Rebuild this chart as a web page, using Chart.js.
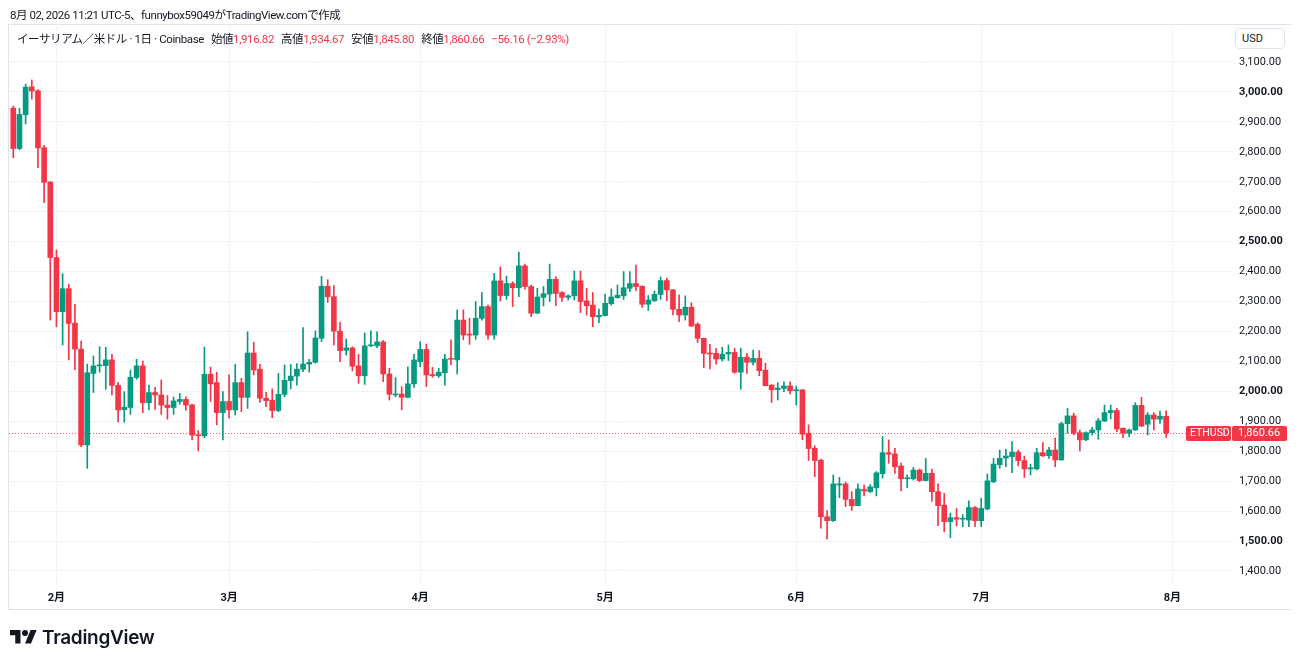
<!DOCTYPE html>
<html lang="ja">
<head>
<meta charset="utf-8">
<title>ETHUSD</title>
<script src="https://cdn.jsdelivr.net/npm/chart.js@4.4.1/dist/chart.umd.min.js"></script>
<style>
  html, body { margin:0; padding:0; background:#ffffff; overflow:hidden; }
  body { width:1299px; height:664px; position:relative; font-family: Roboto, "Noto Sans CJK JP", sans-serif; color:#131722; }
  #frame { position:absolute; left:8px; top:24px; width:1282px; height:584px; border:1px solid #e0e3eb; border-right:none; box-sizing:content-box; }
  #c { position:absolute; left:0; top:0; }
  #stamp { position:absolute; left:10px; top:7px; font-size:11.5px; letter-spacing:-0.45px; line-height:16px; white-space:nowrap; }
  #legend { position:absolute; left:17px; top:31px; font-size:11.5px; letter-spacing:-0.4px; line-height:16px; white-space:nowrap; }
  #legend .g { margin-left:7px; }
  #legend .r { color:#f23645; }
  #usd { position:absolute; left:1235px; top:28px; width:50px; height:21px; border:1px solid #e0e3eb; border-radius:4px; box-sizing:border-box; font-size:11px; line-height:19px; padding-left:6px; background:#fff; }
  #logo { position:absolute; left:10px; top:626px; height:22px; display:flex; align-items:center; }
  #logo span { font-family: Inter, Roboto, sans-serif; font-weight:600; font-size:19px; margin-left:5px; letter-spacing:-0.3px; color:#131722; }
</style>
</head>
<body>
<div id="frame"></div>
<canvas id="c" width="1299" height="664"></canvas>
<div id="stamp">8月 02, 2026 11:21 UTC-5、funnybox59049がTradingView.comで作成</div>
<div id="legend">イーサリアム／米ドル · 1日 · Coinbase<span class="g">始値<span class="r">1,916.82</span></span><span class="g">高値<span class="r">1,934.67</span></span><span class="g">安値<span class="r">1,845.80</span></span><span class="g">終値<span class="r">1,860.66</span></span><span class="g r">−56.16 (−2.93%)</span></div>
<div id="usd">USD</div>
<div id="logo">
  <svg width="27" height="21" viewBox="0 0 36 28"><path d="M14 22H7V11H0V4h14v18z" fill="#131722"/><circle cx="20" cy="8" r="4" fill="#131722"/><path d="M28 22h-8l7.5-18h8L28 22z" fill="#131722"/></svg>
  <span>TradingView</span>
</div>
<script>
// ---- data (daily candles, ETH/USD Coinbase, from 2026-01-25) ----
const startDate = '2026-01-25';
const opens = [
2946,2811,2924,3017,3004,2814,2699,2447,2266,2343,2228,2141,1821,2060,2085,2086,2105,2020,1939,1946,
2046,2085,1962,1996,1988,1954,1946,1966,1973,1955,1855,1851,2057,2029,1929,1966,1938,2029,1980,2128,
2074,1977,1970,1936,1990,2036,2051,2074,2091,2097,2177,2351,2316,2201,2137,2145,2085,2052,2152,2152,
2165,2058,1988,1991,1980,2025,2099,2140,2056,2052,2062,2110,2105,2238,2190,2188,2244,2283,2188,2369,
2320,2360,2346,2419,2350,2261,2314,2325,2374,2330,2314,2319,2369,2302,2288,2249,2253,2293,2313,2319,
2344,2360,2351,2291,2303,2324,2370,2339,2274,2255,2281,2224,2177,2128,2127,2108,2125,2130,2064,2114,
2097,2110,2071,2021,2006,2010,2018,2002,2005,1860,1810,1770,1581,1568,1687,1691,1639,1618,1672,1665,
1678,1725,1795,1791,1751,1708,1708,1737,1702,1726,1665,1620,1565,1578,1573,1570,1612,1568,1607,1698,
1755,1777,1782,1797,1769,1741,1741,1795,1785,1804,1771,1892,1918,1862,1838,1862,1871,1901,1929,1936,
1877,1860,1871,1953,1890,1921,1907,1916.82];
const highs = [
2953,2945,3026,3040,3008,2822,2700,2472,2393,2358,2291,2168,2091,2118,2149,2147,2124,2030,1999,2071,
2107,2101,2021,2013,2038,1986,1981,1993,1982,1957,1869,2148,2081,2064,1999,2055,2090,2044,2199,2164,
2090,1997,2008,2060,2088,2090,2093,2213,2107,2202,2384,2373,2353,2231,2175,2149,2124,2195,2202,2199,
2170,2077,2046,2016,2082,2124,2166,2158,2080,2077,2124,2172,2272,2272,2244,2300,2330,2288,2394,2416,
2385,2366,2465,2425,2355,2344,2350,2425,2383,2333,2322,2402,2402,2344,2330,2275,2325,2342,2355,2400,
2400,2422,2352,2320,2335,2382,2378,2340,2322,2319,2296,2229,2178,2157,2144,2147,2155,2144,2144,2127,
2138,2136,2094,2022,2029,2032,2032,2018,2006,1888,1818,1774,1602,1721,1713,1697,1665,1691,1687,1689,
1732,1849,1838,1810,1760,1721,1746,1741,1776,1740,1691,1659,1593,1609,1588,1634,1615,1643,1724,1776,
1804,1806,1832,1804,1784,1757,1810,1829,1813,1844,1897,1943,1927,1871,1865,1880,1910,1954,1954,1943,
1877,1874,1962,1980,1929,1929,1934,1934.67];
const lows = [
2780,2807,2893,2976,2747,2630,2238,2216,2155,2105,2072,1815,1743,1996,2064,2007,1988,1898,1897,1923,
2040,1929,1938,1940,1923,1907,1923,1957,1937,1838,1801,1845,1966,1888,1838,1910,1921,1932,1943,2055,
1963,1949,1912,1932,1982,2008,2021,2066,2064,2094,2166,2297,2155,2099,2121,2068,2027,2023,2149,2146,
2032,1971,1982,1938,1978,2013,2082,2016,2047,2046,2021,2088,2058,2172,2157,2174,2238,2174,2174,2302,
2307,2283,2316,2341,2249,2260,2285,2300,2286,2300,2305,2305,2263,2255,2216,2229,2252,2288,2311,2307,
2333,2336,2280,2270,2300,2307,2303,2255,2233,2238,2217,2163,2079,2075,2091,2101,2103,2060,2007,2060,
2088,2052,2018,1963,1971,1999,1991,1954,1838,1769,1715,1543,1507,1565,1645,1615,1602,1617,1651,1662,
1651,1710,1760,1726,1668,1678,1704,1698,1701,1632,1551,1531,1511,1550,1548,1548,1548,1548,1604,1695,
1743,1748,1728,1751,1712,1721,1737,1782,1776,1748,1770,1860,1854,1801,1835,1854,1840,1899,1908,1865,
1845,1849,1869,1882,1854,1871,1893,1845.80];
const closes = [
2811,2925,3016,3003,2813,2698,2447,2266,2343,2227,2141,1821,2062,2085,2088,2105,2020,1938,1947,2047,
2085,1962,1996,1988,1954,1946,1968,1973,1954,1854,1852,2057,2025,1929,1966,1938,2029,1980,2128,2071,
1977,1969,1936,1990,2037,2051,2074,2091,2097,2178,2351,2316,2201,2136,2145,2084,2052,2152,2155,2165,
2058,1990,1991,1980,2025,2105,2140,2055,2052,2064,2108,2107,2238,2188,2188,2244,2283,2188,2369,2320,
2360,2346,2419,2350,2261,2315,2326,2374,2327,2314,2319,2369,2300,2286,2249,2254,2294,2315,2321,2346,
2360,2350,2291,2305,2324,2370,2339,2274,2255,2281,2218,2177,2127,2125,2108,2124,2130,2064,2114,2097,
2110,2069,2019,2005,2011,2018,2002,2005,1857,1809,1769,1581,1568,1691,1691,1639,1618,1674,1667,1681,
1728,1795,1790,1748,1708,1711,1737,1702,1726,1665,1618,1565,1578,1573,1575,1612,1568,1609,1701,1757,
1776,1784,1797,1769,1741,1745,1795,1785,1804,1771,1892,1918,1860,1838,1862,1871,1902,1929,1936,1874,
1860,1871,1953,1884,1921,1907,1916.82,1860.66];

const monthStarts = ['2026-02-01','2026-03-01','2026-04-01','2026-05-01','2026-06-01','2026-07-01','2026-08-01'];
const monthLabels = ['2月','3月','4月','5月','6月','7月','8月'];
const priceTicks = [1400,1500,1600,1700,1800,1900,2000,2100,2200,2300,2400,2500,2600,2700,2800,2900,3000,3100];
const symbolName = 'ETHUSD';

// ---- derived ----
const DAY = 86400000;
const t0 = Date.parse(startDate);
const monthIdx = monthStarts.map(d => Math.round((Date.parse(d) - t0) / DAY));
const UP = '#089981', DOWN = '#f23645';
const colors = closes.map((c, i) => c >= opens[i] ? UP : DOWN);
const wickData = highs.map((h, i) => ({ x: i, y: [lows[i], h] }));
const bodyData = opens.map((o, i) => ({ x: i, y: [o, closes[i]] }));
const lastPrice = closes[closes.length - 1];
const fmt = v => v.toLocaleString('en-US', { minimumFractionDigits: 2, maximumFractionDigits: 2 });
const GRID = '#f0f3fa';

const pricePlugin = {
  id: 'pricePlugin',
  beforeDatasetsDraw(chart) {
    const { ctx, chartArea, scales } = chart;
    const y = Math.round(scales.y.getPixelForValue(lastPrice)) + 0.5;
    ctx.save();
    ctx.strokeStyle = 'rgba(242,54,69,0.85)';
    ctx.lineWidth = 1;
    ctx.setLineDash([1, 2]);
    ctx.beginPath();
    ctx.moveTo(chartArea.left, y);
    ctx.lineTo(chartArea.right - 46, y);
    ctx.stroke();
    ctx.restore();
  },
  afterDraw(chart) {
    const { ctx, chartArea, scales } = chart;
    const y = Math.round(scales.y.getPixelForValue(lastPrice));
    ctx.save();
    ctx.fillStyle = DOWN;
    const rr = (x, yy, w, h, r) => { ctx.beginPath(); ctx.roundRect(x, yy, w, h, r); ctx.fill(); };
    rr(chartArea.right - 46, y - 7, 45, 15, 2);
    rr(chartArea.right, y - 7, 55, 15, 2);
    ctx.fillStyle = '#ffffff';
    ctx.font = '10.5px Roboto, sans-serif';
    ctx.textBaseline = 'middle';
    ctx.textAlign = 'left';
    ctx.fillText(symbolName, chartArea.right - 42, y + 0.5);
    ctx.font = '11px Roboto, sans-serif';
    ctx.fillText(fmt(lastPrice), chartArea.right + 6, y + 0.5);
    ctx.restore();
  }
};

new Chart(document.getElementById('c'), {
  type: 'bar',
  data: {
    datasets: [
      { data: bodyData, backgroundColor: colors, barThickness: 5, minBarLength: 1, grouped: false, order: 0, borderWidth: 0 },
      { data: wickData, backgroundColor: colors, barThickness: 1, grouped: false, order: 1, borderWidth: 0 }
    ]
  },
  options: {
    responsive: false,
    animation: false,
    events: [],
    layout: { padding: { top: 24, left: 9, right: 0, bottom: 55 } },
    plugins: { legend: { display: false }, tooltip: { enabled: false } },
    scales: {
      x: {
        type: 'linear', position: 'bottom', offset: false,
        min: -0.697, max: 197.68,
        grid: { color: GRID, offset: false, drawTicks: false },
        border: { display: false },
        afterBuildTicks: s => { s.ticks = monthIdx.map(v => ({ value: v })); },
        afterFit: s => { s.height = 24; },
        ticks: {
          autoSkip: false, maxRotation: 0, padding: 7, color: '#131722',
          font: { family: 'Roboto, "Noto Sans CJK JP", sans-serif', size: 11, weight: 'bold' },
          callback: v => { const k = monthIdx.indexOf(v); return k >= 0 ? monthLabels[k] : ''; }
        }
      },
      y: {
        type: 'linear', position: 'right',
        min: 1353.2, max: 3226.9,
        grid: { color: GRID, drawTicks: false },
        border: { display: false },
        afterBuildTicks: s => { s.ticks = priceTicks.map(v => ({ value: v })); },
        afterFit: s => { s.width = 67; },
        ticks: {
          padding: 7, color: '#131722',
          font: c => ({ family: 'Roboto, sans-serif', size: 11, weight: (c.tick && c.tick.value % 500 === 0) ? 'bold' : 'normal' }),
          callback: v => fmt(v)
        }
      }
    }
  },
  plugins: [pricePlugin]
});
</script>
</body>
</html>
